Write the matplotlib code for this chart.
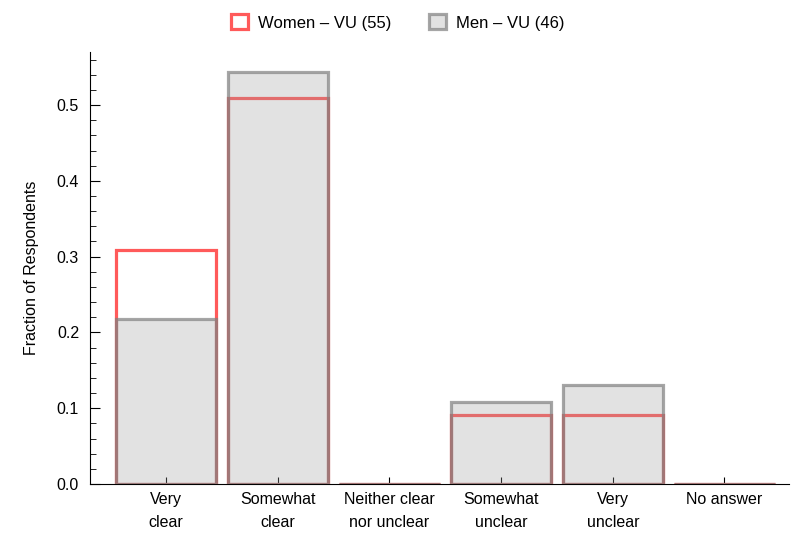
import matplotlib
matplotlib.use('Agg')
import matplotlib.pyplot as plt
from matplotlib.ticker import MultipleLocator

plt.rcParams['font.family'] = ['Liberation Sans', 'DejaVu Sans']

categories = ['Very\nclear', 'Somewhat\nclear', 'Neither clear\nnor unclear',
              'Somewhat\nunclear', 'Very\nunclear', 'No answer']
women = [17/55, 28/55, 0, 5/55, 5/55, 0]
men = [10/46, 25/46, 0, 5/46, 6/46, 0]
labels = ['Women \u2013 VU (55)', 'Men \u2013 VU (46)']

fig = plt.figure(figsize=(7.98, 5.42), dpi=100)
ax = fig.add_axes([0.113, 0.107, 0.876, 0.797])

x = list(range(len(categories)))
w = 0.9
ax.bar(x, women, width=w, facecolor='none', edgecolor='#ff5a5a', linewidth=2.3,
       label=labels[0], zorder=2)
ax.bar(x, men, width=w, facecolor=(0.62, 0.62, 0.62, 0.29),
       edgecolor=(0.5, 0.5, 0.5, 0.7), linewidth=2.3, label=labels[1], zorder=3)

ax.set_xlim(-0.68, 5.58)
ax.set_ylim(0, 0.57)
ax.set_xticks(x)
ax.set_xticklabels(categories, fontsize=11.5, linespacing=1.6)
ax.yaxis.set_major_locator(MultipleLocator(0.1))
ax.yaxis.set_minor_locator(MultipleLocator(0.02))
ax.yaxis.set_major_formatter(plt.FuncFormatter(lambda v, p: f'{v:.1f}'))
ax.tick_params(axis='y', direction='in', length=7, width=0.8, labelsize=11.5, pad=8)
ax.tick_params(axis='y', which='minor', direction='in', length=4, width=0.6)
ax.tick_params(axis='x', direction='in', length=5, width=0.8, pad=6)
for s in ['top', 'right']:
    ax.spines[s].set_visible(False)
for s in ['left', 'bottom']:
    ax.spines[s].set_linewidth(0.8)
ax.set_ylabel('Fraction of Respondents', fontsize=11.5, labelpad=13)

ax.legend(loc='lower center', bbox_to_anchor=(0.44, 1.015), ncol=2, frameon=False,
          fontsize=12, handlelength=1.0, handleheight=1.0, columnspacing=2.3,
          handletextpad=0.6)

fig.savefig('out.png', dpi=100)
